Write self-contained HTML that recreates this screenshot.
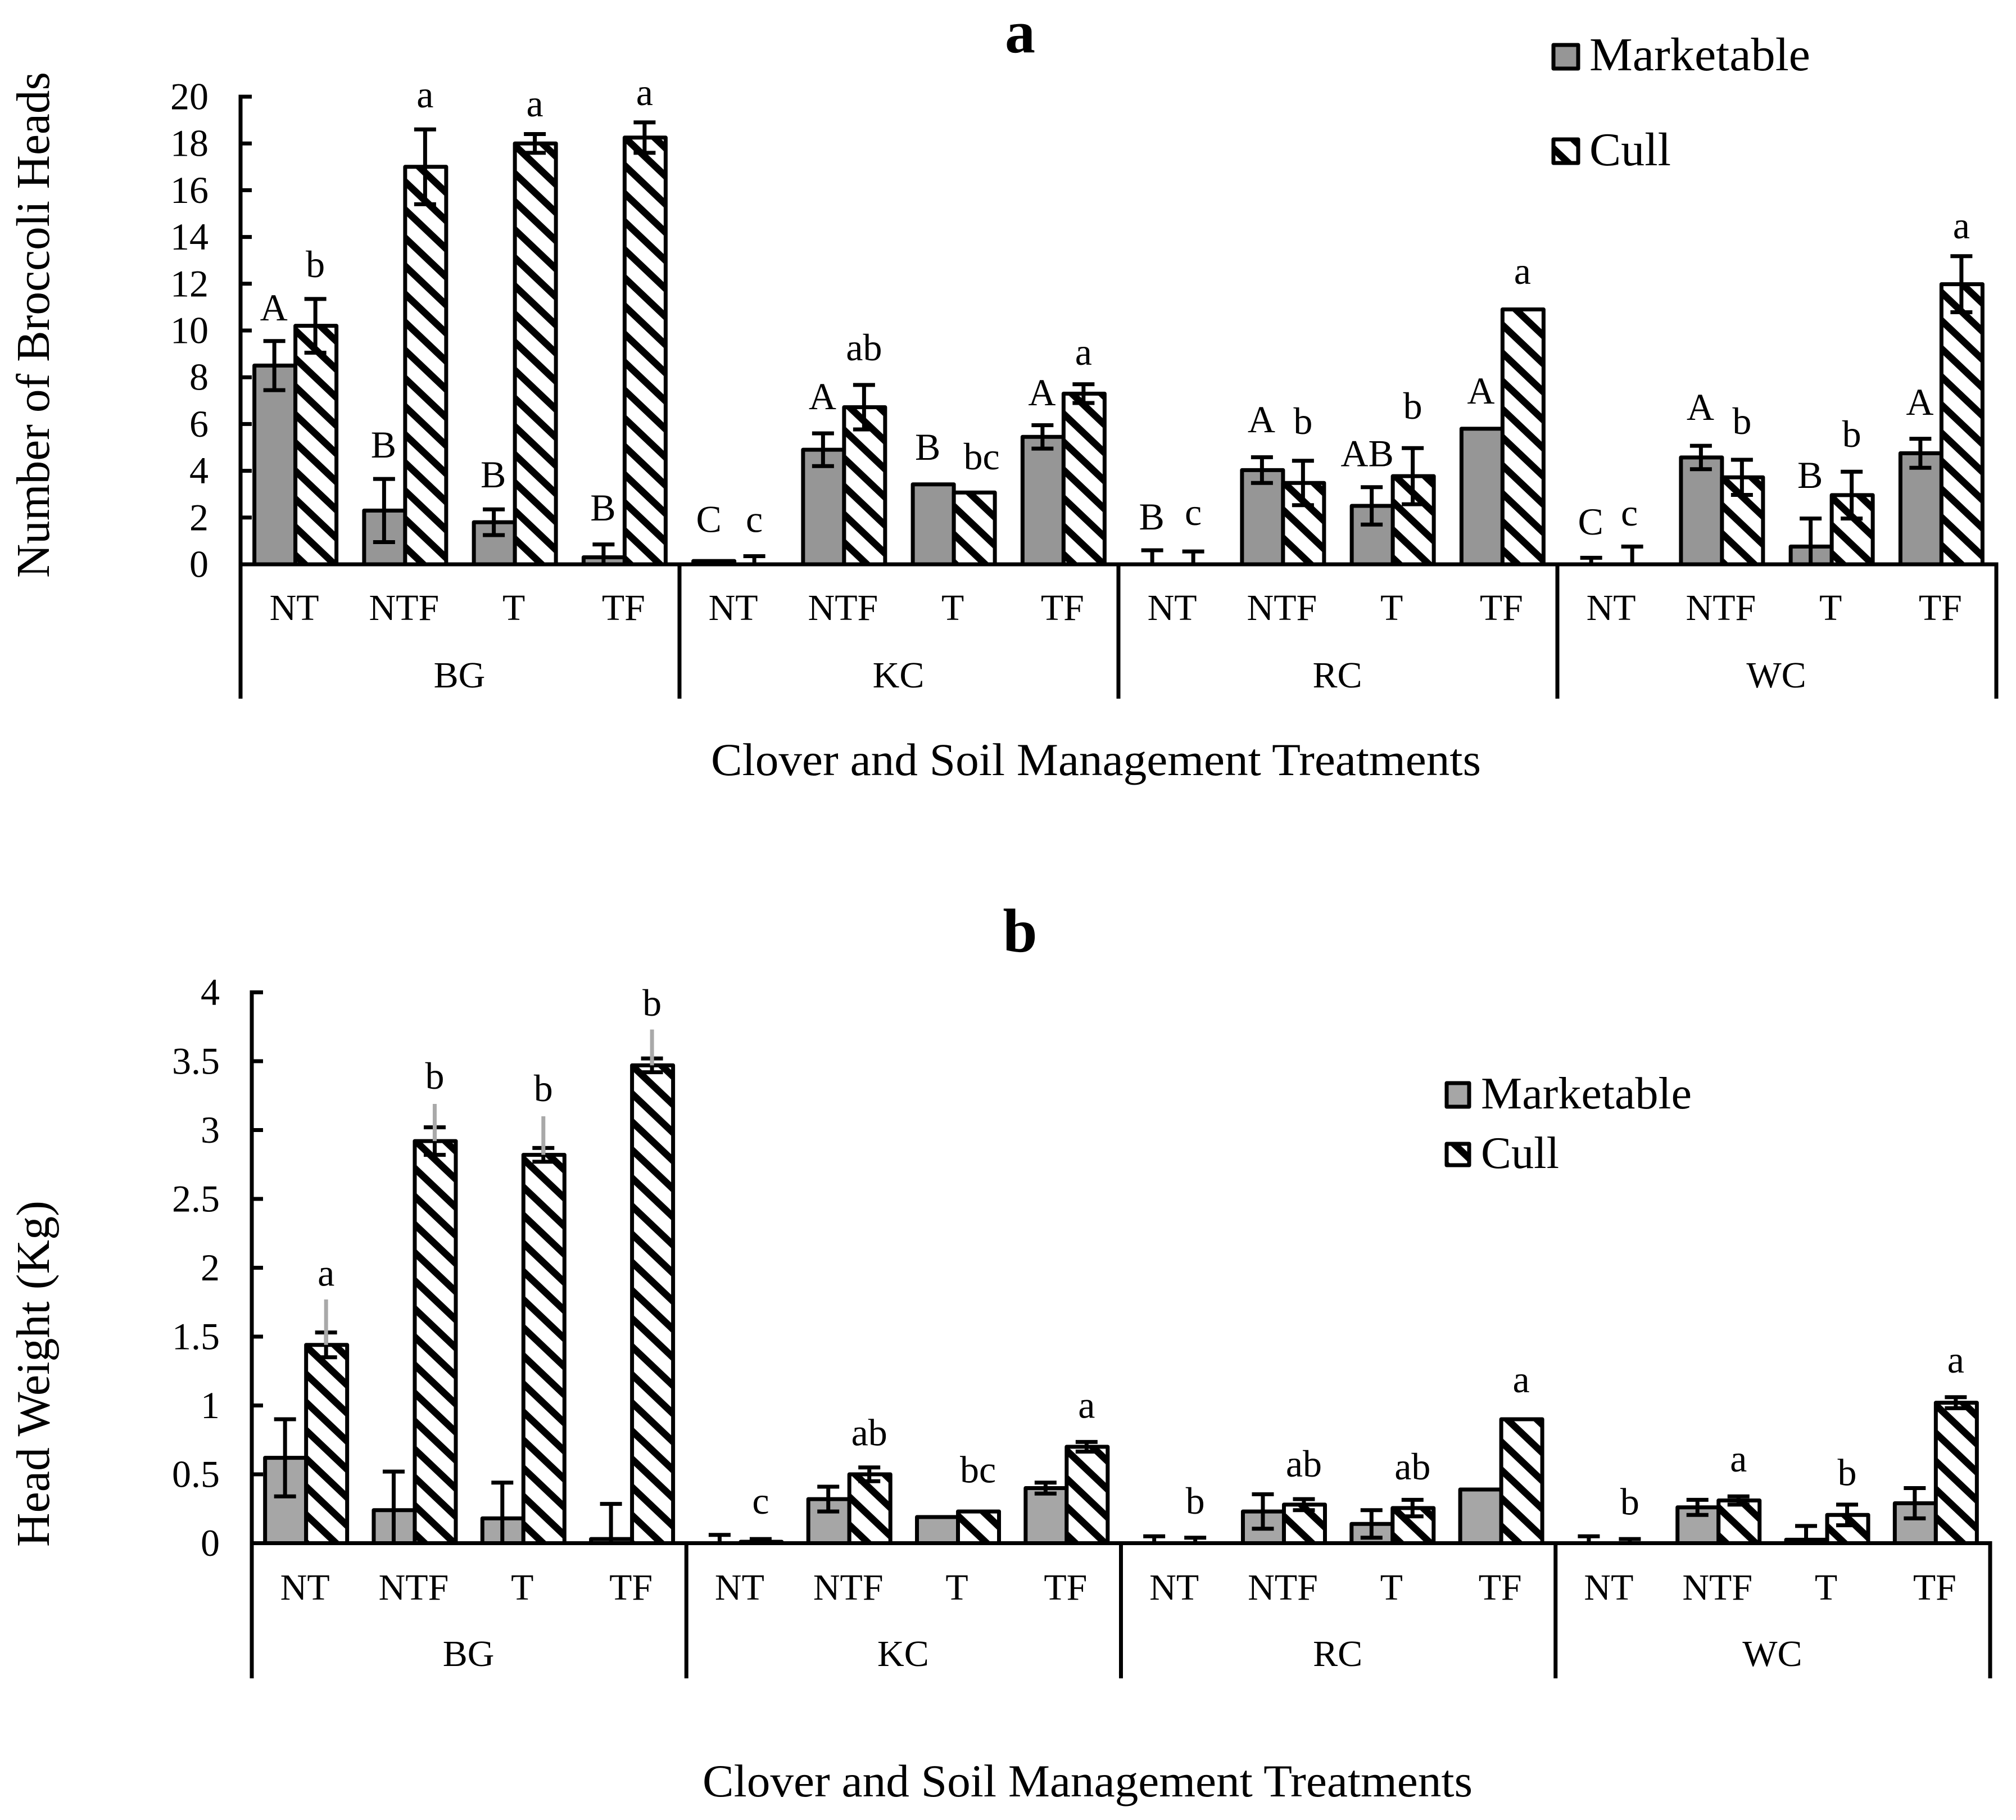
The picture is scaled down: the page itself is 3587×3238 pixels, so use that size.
<!DOCTYPE html>
<html lang="en">
<head>
<meta charset="utf-8">
<title>Broccoli heads and head weight by clover and soil management</title>
<style>
html,body{margin:0;padding:0;background:#fff}
svg{display:block}
text{font-family:"Liberation Serif",serif;fill:#000}
</style>
</head>
<body>
<svg id="figure" xmlns="http://www.w3.org/2000/svg" width="3587" height="3238" viewBox="0 0 3587 3238">
<defs>
<pattern id="hatchA" patternUnits="userSpaceOnUse" width="52.63" height="50" patternTransform="translate(0,30)">
<rect width="52.63" height="50" fill="#fff"/>
<polygon points="0,0 52.63,50 52.63,67 0,17" fill="#000"/>
<polygon points="0,-50 52.63,0 52.63,17 0,-33" fill="#000"/>
</pattern>
<pattern id="hatchB" patternUnits="userSpaceOnUse" width="52.63" height="50" patternTransform="translate(0,19)">
<rect width="52.63" height="50" fill="#fff"/>
<polygon points="0,0 52.63,50 52.63,67 0,17" fill="#000"/>
<polygon points="0,-50 52.63,0 52.63,17 0,-33" fill="#000"/>
</pattern>
</defs>
<rect width="3587" height="3238" fill="#fff"/>

<text x="1815" y="93" font-size="108" font-weight="bold" text-anchor="middle">a</text>
<text transform="translate(87,578) rotate(-90)" font-size="84" text-anchor="middle" textLength="900" lengthAdjust="spacingAndGlyphs">Number of Broccoli Heads</text>
<text x="1950" y="1379" font-size="82" text-anchor="middle" textLength="1370" lengthAdjust="spacingAndGlyphs">Clover and Soil Management Treatments</text>
<g>
<rect x="2764" y="80" width="44" height="42" fill="#969696" stroke="#000" stroke-width="7" stroke-linejoin="round"/>
<text x="2828" y="125" font-size="84" textLength="393" lengthAdjust="spacingAndGlyphs">Marketable</text>
<rect x="2764" y="248" width="44" height="42" fill="url(#hatchA)" stroke="#000" stroke-width="7" stroke-linejoin="round"/>
<text x="2828" y="294" font-size="84" textLength="145" lengthAdjust="spacingAndGlyphs">Cull</text>
</g>
<g id="panelA"></g>

<text x="1815" y="1693" font-size="110" font-weight="bold" text-anchor="middle">b</text>
<text transform="translate(87,2444) rotate(-90)" font-size="84" text-anchor="middle" textLength="616" lengthAdjust="spacingAndGlyphs">Head Weight (Kg)</text>
<text x="1935" y="3196" font-size="82" text-anchor="middle" textLength="1370" lengthAdjust="spacingAndGlyphs">Clover and Soil Management Treatments</text>
<g>
<rect x="2574" y="1927" width="40" height="42" fill="#a6a6a6" stroke="#000" stroke-width="7" stroke-linejoin="round"/>
<text x="2635" y="1972" font-size="80" textLength="375" lengthAdjust="spacingAndGlyphs">Marketable</text>
<rect x="2574" y="2035" width="40" height="38" fill="url(#hatchB)" stroke="#000" stroke-width="7" stroke-linejoin="round"/>
<text x="2635" y="2078" font-size="80" textLength="139" lengthAdjust="spacingAndGlyphs">Cull</text>
</g>
<g id="panelB"></g>
</svg>

<script>
// Shared categories
const clovers = ["BG", "KC", "RC", "WC"];
const treatments = ["NT", "NTF", "T", "TF"];

// Panel a: number of heads
const ticksA = ["0", "2", "4", "6", "8", "10", "12", "14", "16", "18", "20"];
const marketableA = [8.5, 2.3, 1.8, 0.3, 0.14, 4.9, 3.42, 5.45, 0, 4.03, 2.5, 5.8, 0, 4.57, 0.76, 4.75];
const marketableErrA = [1.05, 1.35, 0.55, 0.55, 0, 0.7, 0, 0.5, 0.6, 0.55, 0.8, 0, 0.28, 0.5, 1.2, 0.62];
const cullA = [10.2, 17, 18, 18.25, 0, 6.72, 3.07, 7.3, 0, 3.48, 3.77, 10.9, 0, 3.72, 2.96, 11.98];
const cullErrA = [1.15, 1.6, 0.4, 0.65, 0.35, 0.95, 0, 0.4, 0.55, 0.95, 1.2, 0, 0.76, 0.75, 1, 1.2];
const marketableLettersA = ["A", "B", "B", "B", "C", "A", "B", "A", "B", "A", "AB", "A", "C", "A", "B", "A"];
const cullLettersA = ["b", "a", "a", "a", "c", "ab", "bc", "a", "c", "b", "b", "a", "c", "b", "b", "a"];
const marketableLiftA = [0.88, 0.92, 0.94, 1.03, 1.24, 1.03, 1.05, 0.85, 0.89, 1.07, 0.9, 1.08, 0.99, 1.11, 1.31, 1.02];
const cullLiftA = [0.93, 0.94, 0.76, 0.74, 1.03, 1.06, 0.99, 0.83, 1.13, 1.15, 1.26, 1.1, 0.9, 1.11, 1.06, 0.76];

// Panel b: head weight
const ticksB = ["0", "0.5", "1", "1.5", "2", "2.5", "3", "3.5", "4"];
const marketableB = [0.62, 0.24, 0.18, 0.03, 0, 0.32, 0.19, 0.4, 0, 0.23, 0.14, 0.39, 0, 0.26, 0.025, 0.29];
const marketableErrB = [0.28, 0.28, 0.26, 0.255, 0.06, 0.09, 0, 0.04, 0.05, 0.125, 0.1, 0, 0.05, 0.055, 0.1, 0.11];
const cullB = [1.44, 2.92, 2.82, 3.47, 0.01, 0.5, 0.23, 0.7, 0, 0.28, 0.255, 0.9, 0, 0.31, 0.205, 1.02];
const cullErrB = [0.09, 0.1, 0.05, 0.05, 0.02, 0.05, 0, 0.035, 0.04, 0.04, 0.06, 0, 0.03, 0.03, 0.075, 0.04];
const cullGrayTopB = [1.77, 3.19, 3.1, 3.73, 0, 0, 0, 0, 0, 0, 0, 0, 0, 0, 0, 0];
const cullLettersB = ["a", "b", "b", "b", "c", "ab", "bc", "a", "b", "ab", "ab", "a", "b", "a", "b", "a"];
const cullLiftB = [0.1, 0.11, 0.11, 0.1, 0.184, 0.16, 0.21, 0.175, 0.174, 0.164, 0.148, 0.196, 0.178, 0.18, 0.14, 0.178];

const NS = "http://www.w3.org/2000/svg";
function node(parent, tag, attrs, content) {
  const el = document.createElementNS(NS, tag);
  for (const k in attrs) el.setAttribute(k, attrs[k]);
  if (content !== undefined) el.textContent = content;
  parent.appendChild(el);
  return el;
}

function drawChart(cfg) {
  const root = document.getElementById(cfg.id);
  const groupW = cfg.groupW, catW = groupW / 4, BW = cfg.barW;
  const yPos = v => cfg.y0 - v * cfg.unit;
  const xCenter = i => cfg.x0 + catW * (i + 0.5);
  const count = cfg.marketable.length;

  // Bars
  for (let i = 0; i < count; i++) {
    const c = xCenter(i);
    const vm = cfg.marketable[i];
    if (vm > 0) {
      const b = node(root, "rect", {x: c - BW, y: yPos(vm), width: BW, height: cfg.y0 - yPos(vm), fill: cfg.gray, stroke: "#000", "stroke-width": 7, "stroke-linejoin": "round"});
      
      
    }
    const vc = cfg.cull[i];
    if (vc > 0) {
      const b = node(root, "rect", {x: c, y: yPos(vc), width: BW, height: cfg.y0 - yPos(vc), fill: "url(#" + cfg.hatch + ")", stroke: "#000", "stroke-width": 7, "stroke-linejoin": "round"});
      
      
    }
  }

  // Error bars
  function errorBar(xc, v, e) {
    if (e <= 0) return;
    const hi = v + e, lo = Math.max(0, v - e);
    const g = node(root, "g", {stroke: "#000", "stroke-width": 7, fill: "none"});
    
    
    node(g, "line", {x1: xc, x2: xc, y1: yPos(hi), y2: yPos(lo)});
    node(g, "line", {x1: xc - 19.5, x2: xc + 19.5, y1: yPos(hi), y2: yPos(hi)});
    if (v - e > 0) node(g, "line", {x1: xc - 19.5, x2: xc + 19.5, y1: yPos(lo), y2: yPos(lo)});
  }
  for (let i = 0; i < count; i++) {
    const c = xCenter(i);
    errorBar(c - BW / 2 - cfg.errShift, cfg.marketable[i], cfg.marketableErr[i]);
    errorBar(c + BW / 2 - cfg.errShift, cfg.cull[i], cfg.cullErr[i]);
    if (cfg.grayTop && cfg.grayTop[i] > 0) {
      const gl = node(root, "line", {x1: c + BW / 2 - cfg.errShift, x2: c + BW / 2 - cfg.errShift, y1: yPos(cfg.grayTop[i]), y2: yPos(cfg.cull[i]), stroke: "#a9a9a9", "stroke-width": 7});
      
      
    }
  }

  // Axes
  const right = cfg.x0 + groupW * clovers.length;
  const yAxis = node(root, "line", {x1: cfg.x0, x2: cfg.x0, y1: yPos(parseFloat(cfg.ticks[cfg.ticks.length - 1])) - 3.5, y2: cfg.bottom, stroke: "#000", "stroke-width": 7});
  
  
  const xAxis = node(root, "line", {x1: cfg.x0, x2: right + 3.5, y1: cfg.y0, y2: cfg.y0, stroke: "#000", "stroke-width": 7});
  
  

  cfg.ticks.forEach(t => {
    const y = yPos(parseFloat(t));
    const tick = node(root, "line", {x1: cfg.x0, x2: cfg.x0 + 20, y1: y, y2: y, stroke: "#000", "stroke-width": 7});
    
    
    const label = node(root, "text", {x: cfg.tickRight, y: y + 22.5, "font-size": 68, "text-anchor": "end"}, t);
    
    
  });

  for (let k = 1; k <= clovers.length; k++) {
    const x = cfg.x0 + k * groupW;
    const d = node(root, "line", {x1: x, x2: x, y1: cfg.y0, y2: cfg.bottom, stroke: "#000", "stroke-width": 7});
    
    
  }

  clovers.forEach((name, k) => {
    const g = node(root, "text", {x: cfg.x0 + (k + 0.5) * groupW - 1, y: cfg.groupBase, "font-size": 66, "text-anchor": "middle"}, name);
    
    
    treatments.forEach((t, j) => {
      const l = node(root, "text", {x: xCenter(k * 4 + j) - 2, y: cfg.catBase, "font-size": 66, "text-anchor": "middle"}, t);
      
      
    });
  });

  // Significance letters
  for (let i = 0; i < count; i++) {
    const c = xCenter(i);
    if (cfg.marketableLetters) {
      const top = cfg.marketable[i] + cfg.marketableErr[i];
      const m = node(root, "text", {x: c - BW / 2 - 2 + (cfg.nudgeM[i] || 0), y: yPos(top + cfg.marketableLift[i]), "font-size": 68, "text-anchor": "middle"}, cfg.marketableLetters[i]);
      
      
    }
    const top = Math.max(cfg.cull[i] + cfg.cullErr[i], cfg.grayTop ? cfg.grayTop[i] : 0);
    const t = node(root, "text", {x: c + BW / 2 - 1 + (cfg.nudgeC[i] || 0), y: yPos(top + cfg.cullLift[i]), "font-size": 68, "text-anchor": "middle"}, cfg.cullLetters[i]);
    
    
  }
}

drawChart({
  id: "panelA", x0: 428, groupW: 781, barW: 73, y0: 1004, unit: 41.6, bottom: 1243, errShift: 1,
  tickRight: 371, catBase: 1103, groupBase: 1223, gray: "#969696", hatch: "hatchA", ticks: ticksA,
  marketable: marketableA, marketableErr: marketableErrA, cull: cullA, cullErr: cullErrA,
  marketableLetters: marketableLettersA, marketableLift: marketableLiftA,
  cullLetters: cullLettersA, cullLift: cullLiftA,
  nudgeM: {4: -7, 6: -8, 10: -7}, nudgeC: {6: 14, 12: -5}
});
drawChart({
  id: "panelB", x0: 448, groupW: 773.25, barW: 73, y0: 2745.5, unit: 245, bottom: 2986, errShift: 1,
  tickRight: 391, catBase: 2846, groupBase: 2964, gray: "#a6a6a6", hatch: "hatchB", ticks: ticksB,
  marketable: marketableB, marketableErr: marketableErrB, cull: cullB, cullErr: cullErrB, grayTop: cullGrayTopB,
  cullLetters: cullLettersB, cullLift: cullLiftB,
  nudgeM: {}, nudgeC: {}
});
</script>
</body>
</html>
